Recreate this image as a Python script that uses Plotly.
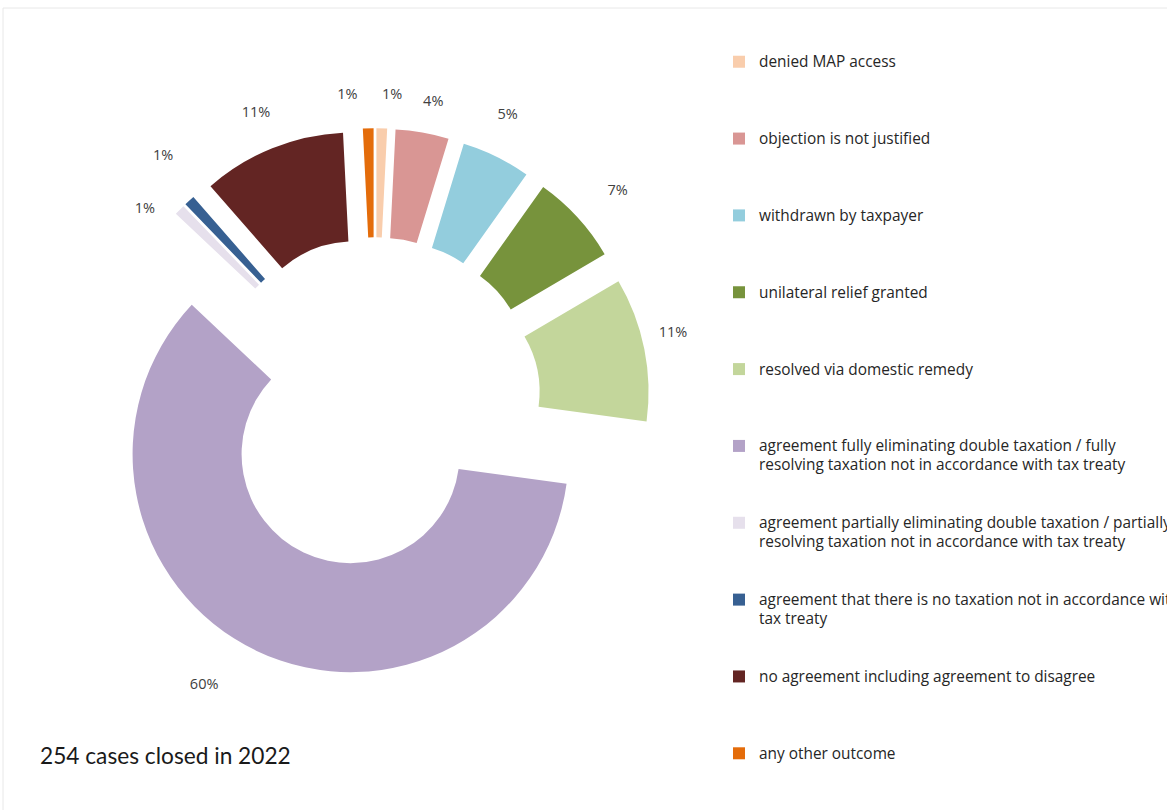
import plotly.graph_objects as go

# ---- data ----
labels = [
    "denied MAP access",
    "objection is not justified",
    "withdrawn by taxpayer",
    "unilateral relief granted",
    "resolved via domestic remedy",
    "agreement fully eliminating double taxation / fully<br>resolving taxation not in accordance with tax treaty",
    "agreement partially eliminating double taxation / partially<br>resolving taxation not in accordance with tax treaty",
    "agreement that there is no taxation not in accordance with<br>tax treaty",
    "no agreement including agreement to disagree",
    "any other outcome",
]
cases = [2, 10, 13, 17, 27, 152, 2, 2, 27, 2]
colors = [
    "#F9CDAC", "#D99694", "#93CDDD", "#77933C", "#C3D69B",
    "#B3A2C7", "#E6E0EC", "#376092", "#632523", "#E46C0A",
]
caption = "254 cases closed in 2022"

W, H = 1167, 810
FONT = "Open Sans"


def legend_text(lab):
    lines = lab.split("<br>")
    body = "<br>".join('<span style="font-size:15.4px">%s</span>' % ln for ln in lines)
    return body + "<br>&nbsp;" * (4 - len(lines))


legend_labels = [legend_text(lab) for lab in labels]

# donut geometry (pixels)
cx, cy = 375, 403
pull = 0.26
R = 218
half_box = R * (1 + pull)

# percentage labels are carried by transparent rings (rotation deg, radius px)
rings = [(-3, 288), (-3.5, 305), (-1.5, 296), (0, 309), (3.5, 313), (2.5, 300), (-1, 300)]
label_ring = [6, 2, 1, 3, 0, 4, 0, 4, 5, 6]


def dom(half):
    return dict(
        x=[(cx - half) / W, (cx + half) / W],
        y=[1 - (cy + half) / H, 1 - (cy - half) / H],
    )


fig = go.Figure()
fig.add_trace(go.Pie(
    labels=legend_labels, values=cases,
    marker=dict(colors=colors, line=dict(width=0)),
    hole=0.5, pull=pull, sort=False, direction="clockwise", rotation=0,
    textinfo="none", hoverinfo="percent",
    domain=dom(half_box),
))
for k, (rot, rr) in enumerate(rings):
    fig.add_trace(go.Pie(
        labels=legend_labels, values=cases,
        marker=dict(colors=["rgba(0,0,0,0)"] * len(cases), line=dict(width=0)),
        hole=0.95, sort=False, direction="clockwise", rotation=rot,
        textposition=["outside" if g == k else "none" for g in label_ring],
        texttemplate="%{percent:.0%}",
        outsidetextfont=dict(family=FONT, size=14.5, color="#404040"),
        showlegend=False, hoverinfo="skip",
        domain=dom(rr),
    ))

fig.add_annotation(
    text=caption, xref="paper", yref="paper", x=38 / W, y=1 - 755 / H,
    xanchor="left", yanchor="middle", showarrow=False,
    font=dict(family="Lato", size=22.7, color="#1a1a1a"),
)
fig.add_shape(
    type="rect", xref="paper", yref="paper",
    x0=3 / W, x1=1.05, y0=-0.05, y1=1 - 8 / H,
    line=dict(color="#e8e8e8", width=1), fillcolor="rgba(0,0,0,0)",
)

fig.update_layout(
    width=W, height=H,
    margin=dict(l=0, r=0, t=0, b=0, autoexpand=False),
    paper_bgcolor="white", plot_bgcolor="white",
    legend=dict(
        x=719 / W, y=1 - 46 / H, xanchor="left", yanchor="top",
        valign="top", font=dict(family=FONT, size=14.2, color="#262626"),
        bgcolor="rgba(0,0,0,0)",
    ),
)

fig.write_html("out.html")
